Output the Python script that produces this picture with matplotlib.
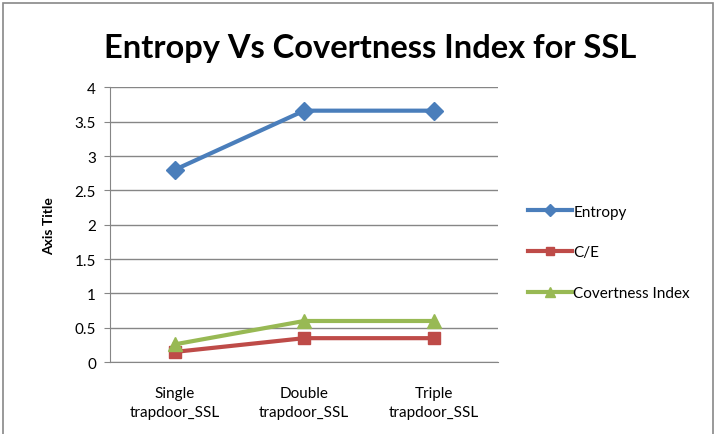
import matplotlib.pyplot as plt
import numpy as np
from matplotlib.patches import Rectangle

plt.rcParams['font.family'] = ['Lato', 'DejaVu Sans']

categories = ['Single\ntrapdoor_SSL', 'Double\ntrapdoor_SSL', 'Triple\ntrapdoor_SSL']
entropy = [2.80, 3.66, 3.66]
c_e = [0.15, 0.35, 0.35]
covertness = [0.26, 0.60, 0.60]

fig = plt.figure(figsize=(7.19, 4.35), dpi=100)
ax = fig.add_axes([0.153, 0.165, 0.540, 0.632])

x = np.arange(len(categories))
ax.plot(x, entropy, color='#4A7EBB', lw=3, marker='D', ms=9, label='Entropy')
ax.plot(x, c_e, color='#BE4B48', lw=3, marker='s', ms=9, label='C/E')
ax.plot(x, covertness, color='#98B954', lw=3, marker='^', ms=10, label='Covertness Index')

ax.set_xlim(-0.5, 2.5)
ax.set_ylim(0, 4)
ax.set_yticks(np.arange(0, 4.01, 0.5))
ax.set_yticklabels(['0', '0.5', '1', '1.5', '2', '2.5', '3', '3.5', '4'])
ax.set_xticks(x)
ax.set_xticklabels(categories, fontsize=11, linespacing=1.45)
ax.tick_params(axis='y', labelsize=11, length=4, color='#868686', pad=6)
ax.tick_params(axis='x', length=0, pad=17)
ax.yaxis.grid(True, color='#868686', lw=1)
ax.set_axisbelow(True)
for s in ['top', 'right']:
    ax.spines[s].set_visible(False)
for s in ['left', 'bottom']:
    ax.spines[s].set_color('#868686')

ax.set_ylabel('Axis Title', fontsize=10, fontweight='bold', labelpad=14)

fig.text(0.515, 0.888, 'Entropy Vs Covertness Index for SSL', fontsize=23.5,
         fontweight='bold', ha='center', va='center')

ax.legend(loc='center left', bbox_to_anchor=(1.04, 0.40), frameon=False,
          fontsize=11, handlelength=2.9, handletextpad=0.1, labelspacing=1.75,
          markerscale=0.7)

fig.patches.append(Rectangle((0.004, -0.05), 0.988, 1.04, transform=fig.transFigure,
                             fill=False, edgecolor='#888888', lw=1.2))

fig.savefig('out.png', dpi=100)
